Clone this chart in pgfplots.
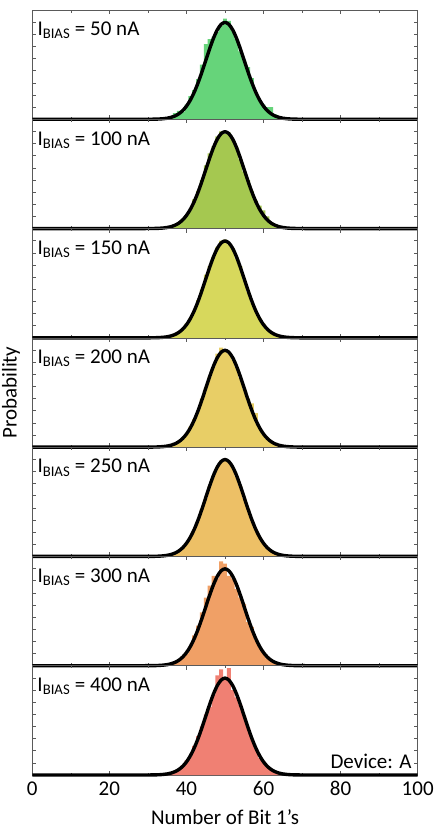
\documentclass[border=0pt]{standalone}
\usepackage{fontspec}
\setmainfont{Carlito}
\usepackage{pgfplots}
\pgfplotsset{compat=1.18}
\usepgfplotslibrary{groupplots}
\usepackage{pgfplotstable}

\definecolor{cA}{RGB}{102,212,122}
\definecolor{cB}{RGB}{165,200,80}
\definecolor{cC}{RGB}{215,216,92}
\definecolor{cD}{RGB}{232,206,102}
\definecolor{cE}{RGB}{237,192,102}
\definecolor{cF}{RGB}{240,160,102}
\definecolor{cG}{RGB}{240,128,115}
\definecolor{framegray}{RGB}{90,90,90}

% histograms: bin (number of 1's) and probability
\pgfplotstableread{
k p
36 0.002
37 0.005
38 0.007
39 0.006
40 0.012
41 0.019
42 0.024
43 0.033
44 0.045
45 0.062
46 0.066
47 0.068
48 0.072
49 0.077
50 0.083
51 0.081
52 0.073
53 0.066
54 0.056
55 0.049
56 0.043
57 0.034
58 0.022
59 0.015
60 0.012
61 0.010
62 0.010
63 0.004
64 0.001
}\histA
\pgfplotstableread{
k p
35 0.001
36 0.002
37 0.003
38 0.005
39 0.008
40 0.011
41 0.015
42 0.024
43 0.031
44 0.040
45 0.052
46 0.062
47 0.068
48 0.076
49 0.080
50 0.078
51 0.079
52 0.073
53 0.067
54 0.057
55 0.047
56 0.040
57 0.031
58 0.023
59 0.019
60 0.015
61 0.010
62 0.005
63 0.002
64 0.001
}\histB
\pgfplotstableread{
k p
35 0.001
36 0.002
37 0.003
38 0.005
39 0.007
40 0.012
41 0.016
42 0.022
43 0.031
44 0.040
45 0.052
46 0.059
47 0.067
48 0.075
49 0.080
50 0.081
51 0.077
52 0.074
53 0.065
54 0.059
55 0.048
56 0.038
57 0.029
58 0.022
59 0.016
60 0.012
61 0.007
62 0.004
63 0.002
64 0.001
}\histC
\pgfplotstableread{
k p
36 0.002
37 0.003
38 0.004
39 0.007
40 0.011
41 0.017
42 0.023
43 0.030
44 0.040
45 0.049
46 0.058
47 0.066
48 0.077
49 0.082
50 0.079
51 0.077
52 0.072
53 0.066
54 0.057
55 0.048
56 0.040
57 0.036
58 0.028
59 0.015
60 0.010
61 0.007
62 0.004
63 0.002
64 0.001
}\histD
\pgfplotstableread{
k p
35 0.001
36 0.002
37 0.003
38 0.004
39 0.007
40 0.011
41 0.016
42 0.022
43 0.030
44 0.039
45 0.048
46 0.058
47 0.067
48 0.074
49 0.079
50 0.080
51 0.078
52 0.073
53 0.066
54 0.058
55 0.048
56 0.039
57 0.030
58 0.022
59 0.016
60 0.011
61 0.007
62 0.004
63 0.002
64 0.001
}\histE
\pgfplotstableread{
k p
36 0.002
37 0.003
38 0.005
39 0.008
40 0.010
41 0.016
42 0.025
43 0.033
44 0.044
45 0.056
46 0.066
47 0.074
48 0.072
49 0.086
50 0.084
51 0.074
52 0.072
53 0.063
54 0.056
55 0.051
56 0.036
57 0.032
58 0.021
59 0.015
60 0.011
61 0.006
62 0.004
63 0.002
}\histF
\pgfplotstableread{
k p
35 0.001
36 0.002
37 0.003
38 0.005
39 0.008
40 0.012
41 0.015
42 0.024
43 0.032
44 0.040
45 0.050
46 0.056
47 0.066
48 0.082
49 0.087
50 0.080
51 0.088
52 0.070
53 0.064
54 0.058
55 0.049
56 0.039
57 0.030
58 0.022
59 0.014
60 0.011
61 0.007
62 0.004
63 0.002
64 0.001
}\histG

% fitted normal curve (mean 50, sd 5)
\pgfplotstableread{
x y
0 0
20 0
25 0.000000
28 0.000005
30 0.00003
31 0.00006
32 0.00012
33 0.00025
34 0.00048
35 0.00089
36 0.00158
37 0.00272
38 0.00448
39 0.00709
40 0.01080
41 0.01579
42 0.02218
43 0.02994
44 0.03884
45 0.04839
46 0.05794
47 0.06664
48 0.07365
49 0.07820
50 0.07979
51 0.07820
52 0.07365
53 0.06664
54 0.05794
55 0.04839
56 0.03884
57 0.02994
58 0.02218
59 0.01579
60 0.01080
61 0.00709
62 0.00448
63 0.00272
64 0.00158
65 0.00089
66 0.00048
67 0.00025
68 0.00012
69 0.00006
70 0.00003
72 0.000005
75 0.000000
80 0
100 0
}\fitcurve

\newcommand{\lbl}[1]{\node[anchor=north west, inner sep=0pt, font=\fontsize{21}{24}\selectfont]
  at ([xshift=5pt,yshift=-12pt]rel axis cs:0,1) {I\textsubscript{BIAS} = #1 nA};}
\newcommand{\panel}[2]{%
  \addplot[ybar, bar width=1, bar shift=0, fill=#2, draw=none] table[x=k, y=p] {#1};
  \addplot[black, line width=3.4pt, smooth, line join=round] table[x=x, y=y] {\fitcurve};
}

\begin{document}
\begin{tikzpicture}
\begin{groupplot}[
  group style={group size=1 by 7, vertical sep=0pt, x descriptions at=edge bottom},
  width=385.4pt, height=109.3pt, scale only axis,
  xmin=0, xmax=100, ymin=0, ymax=0.09,
  xtick={0,20,...,100}, minor xtick={10,30,...,90},
  ytick={0.01,0.02,...,0.081}, yticklabels={}, scaled y ticks=false,
  tick align=inside, major tick length=4pt, minor tick length=2.5pt,
  xtick pos=both, ytick pos=both,
  axis line style={framegray, line width=0.7pt},
  every tick/.style={framegray, line width=0.6pt},
  tick label style={font=\fontsize{21}{24}\selectfont},
  label style={font=\fontsize{21}{24}\selectfont},
  /pgf/number format/assume math mode=true,
  clip=false,
]
\nextgroupplot
\panel{\histA}{cA}
\lbl{50}
\nextgroupplot
\panel{\histB}{cB}
\lbl{100}
\nextgroupplot
\panel{\histC}{cC}
\lbl{150}
\nextgroupplot
\panel{\histD}{cD}
\lbl{200}
\nextgroupplot
\panel{\histE}{cE}
\lbl{250}
\nextgroupplot
\panel{\histF}{cF}
\lbl{300}
\nextgroupplot[xlabel={Number of Bit 1's}, xlabel style={yshift=-7pt},
  xticklabel style={yshift=-3pt}]
\panel{\histG}{cG}
\lbl{400}
\node[anchor=south east, inner sep=0pt, font=\fontsize{21}{24}\selectfont]
  at ([xshift=-6pt,yshift=6pt]rel axis cs:1,0) {Device: A};
\end{groupplot}
\node[rotate=90, anchor=south, inner sep=0pt, font=\fontsize{21}{24}\selectfont]
  at ([xshift=-12pt]group c1r4.west) {Probability};
\path (group c1r7.south west) ++(-32.3pt,-54pt) coordinate (bbA);
\path (group c1r1.north east) ++(24.3pt,10pt) coordinate (bbB);
\path (bbA) rectangle (bbB);
\end{tikzpicture}
\end{document}
